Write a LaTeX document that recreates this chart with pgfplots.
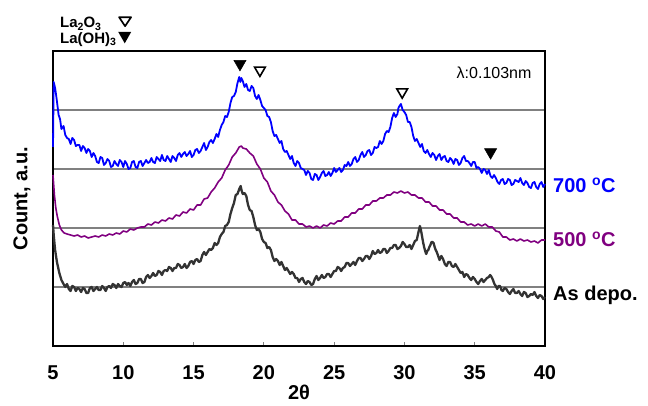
\documentclass[border=0pt]{standalone}
\usepackage{fontspec}
\setmainfont{Liberation Sans}
\usepackage{pgfplots}
\pgfplotsset{compat=1.18}
\definecolor{cblue}{RGB}{0,0,255}
\definecolor{cpurple}{RGB}{128,0,128}
\definecolor{cdark}{RGB}{51,51,51}
\definecolor{cgrid}{RGB}{128,128,128}
\newcommand{\opentri}{\tikz[baseline=0pt]\draw[line width=1.7pt, line join=round] (0.9pt,10.6pt)--(12.9pt,10.6pt)--(6.9pt,1.6pt)--cycle;}
\newcommand{\filltri}{\tikz[baseline=0pt]\fill (0pt,11.4pt)--(13pt,11.4pt)--(6.5pt,0pt)--cycle;}
\newcommand{\lsub}[1]{\raisebox{-2.3pt}{\fontsize{10.5pt}{11pt}\selectfont #1}}
\begin{document}
\begin{tikzpicture}
\path[use as bounding box] (0,0) rectangle (648pt,405pt);
\begin{axis}[
  at={(53pt,59pt)}, anchor=south west,
  scale only axis, width=492pt, height=295pt,
  xmin=5, xmax=40, ymin=0, ymax=295,
  clip=false,
  axis line style={line width=1.5pt, black},
  xtick={5,10,...,40}, xtick pos=lower, tick align=inside,
  major tick length=4pt,
  xtick style={cgrid, line width=1pt},
  ytick={59,118,177,236}, yticklabels={},
  ytick style={draw=none},
  ymajorgrids, grid style={cgrid, line width=1.2pt},
  /pgf/number format/assume math mode=true,
  xticklabel style={font=\fontsize{20pt}{24pt}\selectfont\bfseries, anchor=base, yshift=-33pt},
  xlabel={2θ},
  xlabel style={font=\fontsize{20pt}{24pt}\selectfont\bfseries, at={(axis description cs:0.5,0)}, anchor=base, yshift=-53pt},
  ylabel={Count, a.u.},
  ylabel style={font=\fontsize{20pt}{24pt}\selectfont\bfseries, at={(axis description cs:-0.063,0.5)}, anchor=center},
]
% As deposited
\addplot[cdark, line width=2.3pt, line join=round] coordinates {
(5.00,121)(5.05,111)(5.15,96)(5.28,84)(5.45,73)(5.60,66)(5.75,62)(5.875,59)(6.00,62)(6.125,57)(6.25,55)(6.375,60)(6.50,59)(6.625,55)(6.75,58)(6.875,57)(7.00,54)(7.125,58)(7.25,57)(7.375,53)(7.50,53)(7.625,58)(7.75,59)(7.875,55)(8.00,57)(8.125,59)(8.25,56)(8.375,56)(8.50,60)(8.625,58)(8.75,55)(8.875,59)(9.00,60)(9.125,58)(9.25,62)(9.375,61)(9.50,58)(9.625,62)(9.75,60)(9.875,59)(10.00,63)(10.125,64)(10.25,61)(10.375,63)(10.50,60)(10.625,64)(10.75,66)(10.875,62)(11.00,63)(11.125,67)(11.25,67)(11.375,63)(11.50,64)(11.625,69)(11.75,71)(11.875,68)(12.00,70)(12.125,73)(12.25,70)(12.375,71)(12.50,75)(12.625,74)(12.75,71)(12.875,75)(13.00,76)(13.125,75)(13.25,79)(13.375,78)(13.50,75)(13.625,78)(13.75,78)(13.875,82)(14.00,81)(14.125,78)(14.25,79)(14.375,82)(14.50,78)(14.625,80)(14.75,84)(14.875,85)(15.00,82)(15.125,86)(15.25,87)(15.375,84)(15.50,85)(15.625,91)(15.75,94)(15.875,91)(16.00,94)(16.125,97)(16.25,96)(16.375,98)(16.50,103)(16.625,101)(16.75,103)(16.875,109)(17.00,112)(17.125,114)(17.25,120)(17.375,121)(17.50,124)(17.625,132)(17.75,138)(17.875,143)(18.00,151)(18.125,152)(18.25,157)(18.35,160)(18.425,155)(18.50,152)(18.625,153)(18.75,150)(18.875,141)(19.00,136)(19.125,135)(19.25,129)(19.375,121)(19.50,116)(19.625,117)(19.75,114)(19.875,107)(20.00,104)(20.125,103)(20.25,98)(20.375,99)(20.50,96)(20.625,89)(20.75,85)(20.875,87)(21.00,85)(21.125,81)(21.25,84)(21.375,80)(21.50,76)(21.625,78)(21.75,75)(21.875,72)(22.00,74)(22.125,72)(22.25,68)(22.375,68)(22.50,64)(22.625,67)(22.75,68)(22.875,64)(23.00,62)(23.125,65)(23.25,64)(23.375,61)(23.50,62)(23.625,67)(23.75,70)(23.875,66)(24.00,68)(24.125,71)(24.25,68)(24.375,69)(24.50,72)(24.625,72)(24.75,69)(24.875,72)(25.00,75)(25.125,75)(25.25,79)(25.375,78)(25.50,75)(25.625,78)(25.75,79)(25.875,83)(26.00,83)(26.125,80)(26.25,82)(26.375,84)(26.50,81)(26.625,85)(26.75,88)(26.875,88)(27.00,85)(27.125,87)(27.25,90)(27.375,90)(27.50,87)(27.625,90)(27.75,95)(27.875,92)(28.00,93)(28.125,96)(28.25,93)(28.375,94)(28.50,97)(28.625,97)(28.75,93)(28.875,95)(29.00,98)(29.125,98)(29.25,101)(29.375,101)(29.50,97)(29.625,98)(29.75,100)(29.875,104)(30.00,102)(30.125,99)(30.25,99)(30.375,101)(30.50,97)(30.625,101)(30.75,105)(30.875,106)(31.00,114)(31.10,120)(31.175,116)(31.25,110)(31.325,104)(31.40,99)(31.475,95)(31.55,92)(31.625,95)(31.70,96)(31.775,99)(31.85,101)(31.925,104)(32.00,104)(32.075,103)(32.15,99)(32.225,96)(32.30,94)(32.40,90)(32.50,86)(32.625,90)(32.75,87)(32.875,82)(33.00,80)(33.125,84)(33.25,84)(33.375,80)(33.50,79)(33.625,82)(33.75,79)(33.875,76)(34.00,73)(34.125,74)(34.25,69)(34.375,72)(34.50,71)(34.625,68)(34.75,66)(34.875,69)(35.00,67)(35.125,64)(35.25,62)(35.375,65)(35.50,67)(35.625,64)(35.75,66)(35.875,68)(36.00,69)(36.10,71)(36.20,69)(36.30,66)(36.40,62)(36.50,60)(36.60,57)(36.70,60)(36.80,60)(36.90,56)(37.00,55)(37.125,58)(37.25,57)(37.375,54)(37.50,52)(37.625,55)(37.75,57)(37.875,53)(38.00,53)(38.125,55)(38.25,52)(38.375,50)(38.50,54)(38.625,53)(38.75,49)(38.875,50)(39.00,52)(39.125,51)(39.25,54)(39.375,50)(39.50,48)(39.625,51)(39.75,50)(39.875,47)(40.00,49)
};
% 500 C
\addplot[cpurple, line width=1.6pt, line join=round] coordinates {
(5.00,171)(5.10,151)(5.20,138)(5.30,130)(5.45,121)(5.60,116)(5.80,113)(6.00,112)(6.25,111)(6.50,110)
(6.75,111)(7.00,109)(7.25,110)(7.50,108)(7.75,109)(8.00,110)(8.25,109)(8.50,111)(8.75,110)(9.00,112)
(9.25,111)(9.50,113)(9.75,112)(10.00,115)(10.25,114)(10.50,117)(10.75,116)(11.00,118)(11.25,119)(11.50,119)
(11.75,122)(12.00,121)(12.25,124)(12.50,123)(12.75,126)(13.00,125)(13.25,128)(13.50,127)(13.75,131)(14.00,130)
(14.25,134)(14.50,133)(14.75,137)(15.00,136)(15.25,141)(15.50,141)(15.75,147)(16.00,148)(16.25,154)(16.50,158)
(16.75,164)(17.00,168)(17.25,176)(17.50,181)(17.75,189)(18.00,193)(18.25,199)(18.40,200)(18.50,198)(18.75,197)
(19.00,193)(19.25,190)(19.50,182)(19.75,177)(20.00,168)(20.25,164)(20.50,155)(20.75,151)(21.00,144)(21.25,141)
(21.50,135)(21.75,132)(22.00,126)(22.25,126)(22.50,122)(22.75,122)(23.00,119)(23.25,120)(23.50,118)(23.75,120)
(24.00,118)(24.25,121)(24.50,120)(24.75,123)(25.00,122)(25.25,125)(25.50,125)(25.75,129)(26.00,129)(26.25,133)
(26.50,133)(26.75,137)(27.00,137)(27.25,141)(27.50,141)(27.75,145)(28.00,145)(28.25,148)(28.50,148)(28.75,151)
(29.00,151)(29.25,154)(29.50,153)(29.75,155)(30.00,153)(30.25,154)(30.50,151)(30.75,151)(31.00,148)(31.25,148)
(31.50,144)(31.75,144)(32.00,140)(32.25,140)(32.50,136)(32.75,136)(33.00,132)(33.25,132)(33.50,128)(33.75,128)
(34.00,124)(34.25,124)(34.50,121)(34.75,122)(35.00,120)(35.25,122)(35.50,120)(35.75,122)(36.00,119)(36.25,119)
(36.50,115)(36.75,114)(37.00,109)(37.25,109)(37.50,106)(37.75,107)(38.00,105)(38.25,107)(38.50,105)(38.75,106)
(39.00,104)(39.25,105)(39.50,103)(39.75,106)(40.00,106)
};
% 700 C
\addplot[cblue, line width=1.8pt, line join=round] coordinates {
(5.00,199)(5.05,264)(5.15,258)(5.25,248)(5.40,231)(5.50,227)(5.60,217)(5.75,220)(5.875,211)(6.00,208)(6.125,207)(6.25,202)(6.375,208)(6.50,206)(6.625,200)(6.75,201)(6.875,201)(7.00,195)(7.125,200)(7.25,198)(7.375,193)(7.50,197)(7.625,195)(7.75,189)(7.875,193)(8.00,190)(8.125,184)(8.25,183)(8.375,189)(8.50,188)(8.625,181)(8.75,183)(8.875,187)(9.00,185)(9.125,179)(9.25,180)(9.375,185)(9.50,182)(9.625,180)(9.75,186)(9.875,184)(10.00,179)(10.125,185)(10.25,182)(10.375,177)(10.50,178)(10.625,184)(10.75,185)(10.875,179)(11.00,178)(11.125,184)(11.25,185)(11.375,180)(11.50,183)(11.625,186)(11.75,183)(11.875,184)(12.00,188)(12.125,184)(12.25,183)(12.375,189)(12.50,187)(12.625,185)(12.75,191)(12.875,186)(13.00,185)(13.125,190)(13.25,187)(13.375,184)(13.50,190)(13.625,188)(13.75,185)(13.875,191)(14.00,193)(14.125,189)(14.25,192)(14.375,194)(14.50,190)(14.625,192)(14.75,195)(14.875,189)(15.00,191)(15.125,196)(15.25,197)(15.375,193)(15.50,195)(15.625,199)(15.75,203)(15.875,196)(16.00,199)(16.125,204)(16.25,206)(16.375,203)(16.50,207)(16.625,212)(16.75,209)(16.875,216)(17.00,221)(17.125,224)(17.25,230)(17.375,229)(17.50,234)(17.625,243)(17.75,249)(17.875,250)(18.00,254)(18.125,263)(18.25,269)(18.325,264)(18.40,268)(18.50,265)(18.625,259)(18.75,262)(18.875,256)(19.00,255)(19.125,260)(19.25,258)(19.375,250)(19.50,247)(19.625,251)(19.75,246)(19.875,240)(20.00,238)(20.125,236)(20.25,230)(20.375,229)(20.50,224)(20.625,215)(20.75,210)(20.875,211)(21.00,207)(21.125,203)(21.25,205)(21.375,197)(21.50,194)(21.625,195)(21.75,191)(21.875,187)(22.00,190)(22.125,183)(22.25,180)(22.375,185)(22.50,183)(22.625,178)(22.75,177)(22.875,176)(23.00,171)(23.125,175)(23.25,173)(23.375,167)(23.50,166)(23.625,172)(23.75,171)(23.875,166)(24.00,169)(24.125,173)(24.25,175)(24.375,170)(24.50,171)(24.625,174)(24.75,170)(24.875,173)(25.00,178)(25.125,174)(25.25,176)(25.375,178)(25.50,174)(25.625,176)(25.75,181)(25.875,180)(26.00,184)(26.125,180)(26.25,182)(26.375,187)(26.50,189)(26.625,184)(26.75,186)(26.875,191)(27.00,194)(27.125,189)(27.25,191)(27.375,195)(27.50,196)(27.625,191)(27.75,193)(27.875,199)(28.00,198)(28.125,199)(28.25,205)(28.375,202)(28.50,205)(28.625,212)(28.75,215)(28.875,214)(29.00,219)(29.125,228)(29.25,233)(29.375,229)(29.50,232)(29.575,238)(29.65,240)(29.75,242)(29.875,236)(30.00,234)(30.125,231)(30.25,224)(30.375,224)(30.50,219)(30.625,210)(30.75,205)(30.875,207)(31.00,203)(31.125,199)(31.25,202)(31.375,195)(31.50,193)(31.625,196)(31.75,192)(31.875,189)(32.00,193)(32.125,191)(32.25,186)(32.375,190)(32.50,192)(32.625,186)(32.75,189)(32.875,190)(33.00,185)(33.125,184)(33.25,188)(33.375,186)(33.50,182)(33.625,187)(33.75,186)(33.875,181)(34.00,183)(34.125,188)(34.25,190)(34.375,185)(34.50,185)(34.625,183)(34.75,180)(34.875,184)(35.00,184)(35.125,178)(35.25,179)(35.375,177)(35.50,173)(35.625,177)(35.75,176)(35.875,172)(36.00,176)(36.125,170)(36.25,168)(36.375,171)(36.50,168)(36.625,164)(36.75,162)(36.875,166)(37.00,167)(37.125,162)(37.25,163)(37.375,167)(37.50,166)(37.625,161)(37.75,162)(37.875,166)(38.00,165)(38.125,164)(38.25,168)(38.375,163)(38.50,161)(38.625,165)(38.75,163)(38.875,159)(39.00,158)(39.125,163)(39.25,164)(39.375,159)(39.50,157)(39.625,162)(39.75,164)(39.875,159)(40.00,162)
};
% La(OH)3 peaks
\addplot[only marks, mark=triangle*, mark size=7pt, mark options={rotate=180, fill=black, draw=black, line width=0.5pt}] coordinates {(18.30,282.1)(36.13,193.8)};
% La2O3 peaks
\addplot[only marks, mark=triangle, mark size=6.2pt, mark options={rotate=180, fill=white, draw=black, line width=1.6pt}] coordinates {(19.72,275.8)(29.84,254)};

\node[anchor=base east, inner sep=0pt, font=\fontsize{16pt}{19pt}\selectfont] at (axis cs:39.05,267.7) {λ:0.103nm};
\node[anchor=base west, inner sep=0pt, font=\fontsize{20pt}{24pt}\selectfont\bfseries, text=cblue] at (axis cs:40.57,153.3) {700 \textsuperscript{o}C};
\node[anchor=base west, inner sep=0pt, font=\fontsize{20pt}{24pt}\selectfont\bfseries, text=cpurple] at (axis cs:40.57,99.3) {500 \textsuperscript{o}C};
\node[anchor=base west, inner sep=0pt, font=\fontsize{20pt}{24pt}\selectfont\bfseries] at (axis cs:40.57,46) {As depo.};
\node[anchor=base west, inner sep=0pt, font=\fontsize{15pt}{18pt}\selectfont\bfseries] at (axis cs:5.5,318.2) {\makebox[58pt][l]{La\lsub{2}O\lsub{3}}\opentri};
\node[anchor=base west, inner sep=0pt, font=\fontsize{15pt}{18pt}\selectfont\bfseries] at (axis cs:5.5,302.7) {\makebox[58pt][l]{La(OH)\lsub{3}}\filltri};
\end{axis}
\end{tikzpicture}
\end{document}
